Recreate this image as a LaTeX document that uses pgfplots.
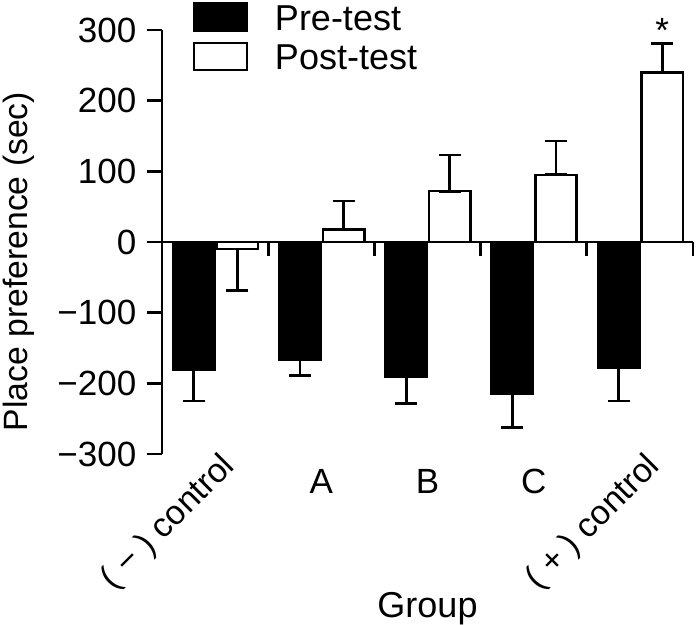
\documentclass[border=0pt]{standalone}
\usepackage{fontspec}
\setmainfont{Liberation Sans}
\usepackage{pgfplots}
\usepackage{pgfplotstable}
\pgfplotsset{compat=1.18}
\newcommand\bigf{\fontsize{35bp}{42bp}\selectfont}
\newcommand\labf{\fontsize{36bp}{43bp}\selectfont}
\newcommand\rotf{\fontsize{34bp}{41bp}\selectfont}
\newcommand\ylf{\fontsize{33.7bp}{40bp}\selectfont}

\pgfplotstableread{
x y ep em
0.30 -181 0 44
1.30 -166 0 23
2.30 -190 0 38
3.30 -214 0 49
4.30 -178 0 47
}\pretab

\pgfplotstableread{
x y ep em
0.71 -10 0 59
1.71 18 40 0
2.71 72 51 0
3.71 95 48 0
4.71 240 41 0
}\posttab

\begin{document}
\begin{tikzpicture}
\begin{axis}[
  scale only axis, width=531bp, height=424bp,
  xmin=0, xmax=5, ymin=-300, ymax=300,
  clip=false,
  axis y line=left, axis x line=bottom,
  axis line style={-, line width=2.8bp, black},
  x axis line style={draw=none},
  ytick={-300,-200,...,300},
  yticklabels={−300,−200,−100,0,100,200,300},
  tick align=outside, major tick length=15bp,
  ytick style={line width=2.8bp, black},
  yticklabel style={font=\bigf, inner sep=0pt, anchor=east, xshift=-10.5bp},
  xtick={1.5,2.5,3.5}, xticklabels={A,B,C},
  xtick style={draw=none},
  xticklabel style={font=\bigf, inner sep=0pt, anchor=north},
  extra x ticks={0.5,4.5},
  extra x tick labels={( − ) control,( + ) control},
  extra x tick style={major tick length=0pt, xticklabel style={rotate=45, anchor=north east, font=\rotf, xshift=5bp, yshift=0bp}},
  every axis y label/.style={at={(axis description cs:-0.254,0.454)}, rotate=90, anchor=base, font=\ylf},
  ylabel={Place preference (sec)},
  every axis x label/.style={at={(axis description cs:0.5,0)}, yshift=-163bp, anchor=base, font=\labf},
  xlabel={Group},
  legend style={at={(axis description cs:0.0578,1.0658)}, anchor=north west, draw=none, fill=none,
    inner sep=0pt, outer sep=0pt, font=\labf, row sep=10bp, column sep=26.7bp, nodes={inner sep=0pt}},
  legend cell align=left,
  legend image code/.code={\draw[#1, line width=2.6bp] (0bp,-12bp) rectangle (53bp,15bp);},
]
\addplot[ybar, bar width=0.39, bar shift=0pt, fill=black, draw=black, line width=2.6bp,
  error bars/.cd, y dir=both, y explicit,
  error bar style={line width=2.8bp, black},
  error mark options={rotate=90, black, line width=2.8bp, mark size=11bp}]
  table[x=x, y=y, y error plus=ep, y error minus=em] {\pretab};
\addlegendentry{Pre-test}
\addplot[ybar, bar width=0.39, bar shift=0pt, fill=white, draw=black, line width=2.6bp,
  error bars/.cd, y dir=both, y explicit,
  error bar style={line width=2.8bp, black},
  error mark options={rotate=90, black, line width=2.8bp, mark size=11bp}]
  table[x=x, y=y, y error plus=ep, y error minus=em] {\posttab};
\addlegendentry{Post-test}
\addplot[forget plot, line width=2.8bp, black, no markers] coordinates {(0,0) (5,0)};
\addplot[forget plot, ycomb, line width=2.8bp, black, no markers] coordinates {(1,-20) (2,-20) (3,-20) (4,-20) (5,-20)};
\node[anchor=base, inner sep=0pt, font=\bigf] at (axis cs:4.71,283) {*};
\end{axis}
\pgfresetboundingbox
\useasboundingbox (-162bp,-171bp) rectangle (534bp,454bp);
\end{tikzpicture}
\end{document}
